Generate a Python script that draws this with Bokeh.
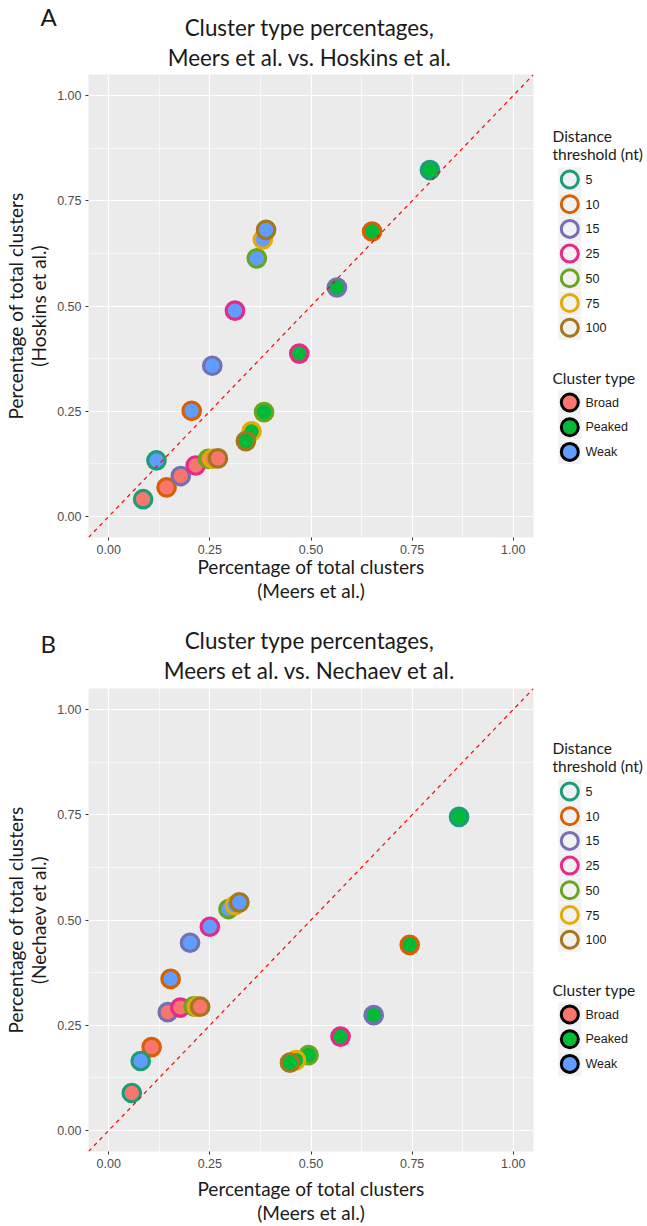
from bokeh.plotting import figure
from bokeh.layouts import column, row
from bokeh.models import Range1d, Slope, ColumnDataSource, FixedTicker, NumeralTickFormatter
from bokeh.embed import file_html
from bokeh.resources import INLINE
from bokeh.core.properties import value

# ---------------- data ----------------
thresholds = ["5", "10", "15", "25", "50", "75", "100"]
cluster_types = ["Broad", "Peaked", "Weak"]
threshold_colors = ["#1B9E77", "#D95F02", "#7570B3", "#E7298A", "#66A61E", "#E6AB02", "#A6761D"]
type_colors = ["#F8766D", "#00BA38", "#619CFF"]
tick_values = [0.0, 0.25, 0.5, 0.75, 1.0]
minor_values = [0.125, 0.375, 0.625, 0.875]

# Panel A: Meers et al. (x) vs Hoskins et al. (y)
a_broad_meers = [0.085, 0.143, 0.178, 0.215, 0.246, 0.257, 0.270]
a_broad_hoskins = [0.041, 0.069, 0.096, 0.121, 0.137, 0.137, 0.138]
a_peaked_meers = [0.794, 0.651, 0.564, 0.471, 0.384, 0.353, 0.339]
a_peaked_hoskins = [0.823, 0.677, 0.544, 0.387, 0.248, 0.202, 0.179]
a_weak_meers = [0.118, 0.205, 0.256, 0.312, 0.366, 0.381, 0.389]
a_weak_hoskins = [0.133, 0.251, 0.358, 0.489, 0.613, 0.658, 0.681]

# Panel B: Meers et al. (x) vs Nechaev et al. (y)
b_broad_meers = [0.057, 0.106, 0.146, 0.177, 0.210, 0.218, 0.226]
b_broad_nechaev = [0.089, 0.198, 0.281, 0.292, 0.295, 0.294, 0.294]
b_peaked_meers = [0.866, 0.744, 0.655, 0.573, 0.494, 0.463, 0.448]
b_peaked_nechaev = [0.745, 0.441, 0.274, 0.223, 0.179, 0.167, 0.161]
b_weak_meers = [0.079, 0.153, 0.201, 0.250, 0.296, 0.312, 0.323]
b_weak_nechaev = [0.165, 0.360, 0.446, 0.484, 0.526, 0.535, 0.542]

TITLE_FONT = "Lato"
TICK_FONT = "Liberation Sans"
TEXT_COLOR = "#1A1A1A"
FRAME_H = 463
HEADER_H = 72
ROW_H = 613 - HEADER_H


def make_header(letter, title2, letter_mid):
    h = figure(width=647, height=HEADER_H, x_range=Range1d(0, 647), y_range=Range1d(HEADER_H, 0),
               output_backend="svg", toolbar_location=None, min_border=0, title=None,
               x_axis_location=None, y_axis_location=None)
    h.outline_line_color = None
    h.grid.visible = False
    h.text(x=[40], y=[letter_mid], text=[letter], text_font=value(TITLE_FONT),
           text_font_size=value("24px"), text_baseline="middle", text_align="left",
           text_color=TEXT_COLOR)
    h.text(x=[309, 309], y=[26.5, 56.5], text=["Cluster type percentages,", title2],
           text_font=value(TITLE_FONT), text_font_size=value("22.4px"),
           text_baseline="middle", text_align="center", text_color=TEXT_COLOR)
    return h


def make_panel(ylab2, series, top, xlab_standoff):
    bottom = ROW_H - top - FRAME_H
    p = figure(width=540, height=ROW_H, title=None,
               x_range=Range1d(-0.05, 1.05), y_range=Range1d(-0.05, 1.05),
               output_backend="svg", toolbar_location=None,
               min_border_left=85, min_border_right=7,
               min_border_top=top, min_border_bottom=bottom)
    p.background_fill_color = "#EBEBEB"
    p.border_fill_color = "white"
    p.outline_line_color = None
    for ax in (p.xaxis[0], p.yaxis[0]):
        ax.ticker = FixedTicker(ticks=tick_values, minor_ticks=minor_values)
        ax.formatter = NumeralTickFormatter(format="0.00")
        ax.axis_line_color = None
        ax.major_tick_line_color = "#333333"
        ax.major_tick_in = 0
        ax.major_tick_out = 3
        ax.minor_tick_line_color = None
        ax.major_label_text_color = "#4D4D4D"
        ax.major_label_text_font = TICK_FONT
        ax.major_label_text_font_size = "12.5px"
        ax.major_label_standoff = 3
        ax.axis_label_text_font = TITLE_FONT
        ax.axis_label_text_font_size = "19px"
        ax.axis_label_text_font_style = "normal"
        ax.axis_label_text_color = TEXT_COLOR
    p.xaxis[0].axis_label = "Percentage of total clusters\n(Meers et al.)"
    p.xaxis[0].axis_label_text_line_height = 1.06
    p.xaxis[0].axis_label_standoff = xlab_standoff
    p.yaxis[0].axis_label = "Percentage of total clusters\n" + ylab2
    p.yaxis[0].axis_label_text_line_height = 1.02
    p.yaxis[0].axis_label_standoff = 4
    p.grid.grid_line_color = "white"
    p.grid.grid_line_width = 1.2
    p.grid.minor_grid_line_color = "white"
    p.grid.minor_grid_line_width = 0.6

    for (xs, ys), fill in zip(series, type_colors):
        src = ColumnDataSource(dict(x=xs, y=ys, threshold=thresholds, border=threshold_colors))
        p.scatter("x", "y", source=src, marker="circle", size=17.5,
                  fill_color=fill, line_color="border", line_width=3.2)

    p.add_layout(Slope(gradient=1, y_intercept=0, line_color="red",
                       line_dash="4 4", line_width=1.2))
    return p


def make_legend(top, off):
    # y coordinates are pixels measured from the top of the row; frame is aligned with the plot frame
    bottom = ROW_H - top - FRAME_H
    lg = figure(width=107, height=ROW_H, x_range=Range1d(0, 107),
                y_range=Range1d(top + FRAME_H, top), title=None,
                output_backend="svg", toolbar_location=None,
                min_border_left=0, min_border_right=0,
                min_border_top=top, min_border_bottom=bottom,
                x_axis_location=None, y_axis_location=None)
    lg.outline_line_color = None
    lg.grid.visible = False
    lg.background_fill_color = "white"
    step = 24.7
    y_thr = [off + 107 + i * step for i in range(len(thresholds))]
    y_typ = [off + 330 + i * step for i in range(len(cluster_types))]
    kx = [29.3] * len(thresholds)
    lg.rect(x=kx, y=y_thr, width=23, height=24, fill_color="#F2F2F2", line_color=None)
    lg.scatter(x=kx, y=y_thr, marker="circle", size=17, fill_color=None,
               line_color=threshold_colors, line_width=3)
    lg.text(x=[45] * len(thresholds), y=y_thr, text=thresholds,
            text_font=value(TICK_FONT), text_font_size=value("12.5px"),
            text_baseline="middle", text_color=TEXT_COLOR)
    kx2 = [29.3] * len(cluster_types)
    lg.rect(x=kx2, y=y_typ, width=23, height=24, fill_color="#F2F2F2", line_color=None)
    lg.scatter(x=kx2, y=y_typ, marker="circle", size=17, fill_color=type_colors,
               line_color="black", line_width=3)
    lg.text(x=[45] * len(cluster_types), y=y_typ, text=cluster_types,
            text_font=value(TICK_FONT), text_font_size=value("12.5px"),
            text_baseline="middle", text_color=TEXT_COLOR)
    lg.text(x=[12, 12, 12], y=[off + 63, off + 81.5, off + 305],
            text=["Distance", "threshold (nt)", "Cluster type"],
            text_font=value(TITLE_FONT), text_font_size=value("15.5px"),
            text_baseline="middle", text_color=TEXT_COLOR)
    return lg


# Panel A
hA = make_header("A", "Meers et al. vs. Hoskins et al.", 16)
pA = make_panel("(Hoskins et al.)",
                [(a_broad_meers, a_broad_hoskins), (a_peaked_meers, a_peaked_hoskins),
                 (a_weak_meers, a_weak_hoskins)],
                top=2, xlab_standoff=-2)
lA = make_legend(2, 0)

# Panel B
hB = make_header("B", "Meers et al. vs. Nechaev et al.", 30)
pB = make_panel("(Nechaev et al.)",
                [(b_broad_meers, b_broad_nechaev), (b_peaked_meers, b_peaked_nechaev),
                 (b_weak_meers, b_weak_nechaev)],
                top=3, xlab_standoff=6)
lB = make_legend(3, -1)

layout = column(hA, row(pA, lA), hB, row(pB, lB))
open("out.html", "w").write(file_html(layout, INLINE))
